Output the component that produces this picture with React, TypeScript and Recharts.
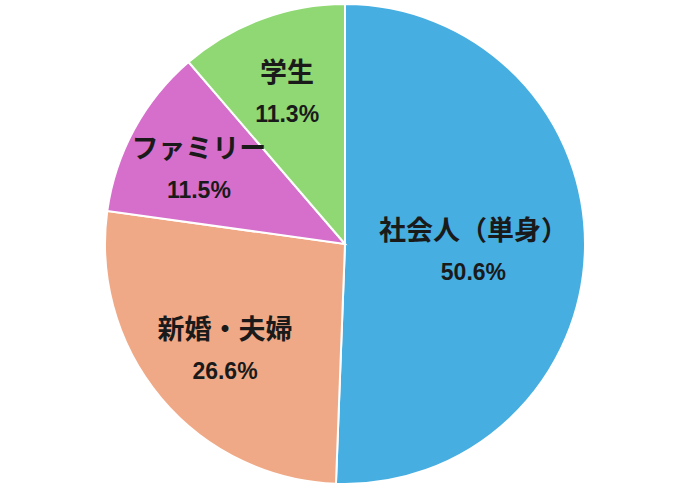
import React from "react"
import { PieChart, Pie, Cell } from "recharts"

const categories = ["社会人（単身）", "新婚・夫婦", "ファミリー", "学生"]
const shares = [50.6, 26.6, 11.5, 11.3]
const colors = ["#46aee0", "#f0a986", "#d66fcb", "#8fd873"]

const data = categories.map((name, i) => ({ name, value: shares[i] }))

const RADIAN = Math.PI / 180
const total = shares.reduce((a, b) => a + b, 0)

// two-line label placed a bit outside the slice centroid
const renderLabel = (props: any) => {
  const { cx, cy, midAngle, outerRadius, name, value } = props
  const sweep = (value / total) * 2 * Math.PI
  const centroid = (4 * Math.sin(sweep / 2)) / (3 * sweep)
  const r = outerRadius * (0.25 + 0.68 * centroid)
  const x = cx + r * Math.cos(-midAngle * RADIAN)
  const y = cy + r * Math.sin(-midAngle * RADIAN) + 5
  return (
    <g>
      <text
        x={x}
        y={y - 11}
        textAnchor="middle"
        fontFamily="'Noto Sans CJK JP', sans-serif"
        fontWeight={700}
        fontSize={27}
        fill="#1a1a1a"
      >
        {name}
      </text>
      <text
        x={x}
        y={y + 29}
        textAnchor="middle"
        fontFamily="'Liberation Sans', Arial, sans-serif"
        fontWeight={700}
        fontSize={23}
        fill="#1a1a1a"
      >
        {value.toFixed(1)}%
      </text>
    </g>
  )
}

export default function App() {
  return (
    <div style={{ position: "absolute", left: 0, top: 0, background: "#fff" }}>
      <PieChart width={690} height={488} margin={{ top: 0, right: 0, bottom: 0, left: 0 }}>
        <Pie
          data={data}
          dataKey="value"
          nameKey="name"
          cx={345}
          cy={244}
          outerRadius={240}
          startAngle={90}
          endAngle={-270}
          stroke="#ffffff"
          strokeWidth={2}
          label={renderLabel}
          labelLine={false}
          isAnimationActive={false}
        >
          {data.map((d, i) => (
            <Cell key={d.name} fill={colors[i]} />
          ))}
        </Pie>
      </PieChart>
    </div>
  )
}
